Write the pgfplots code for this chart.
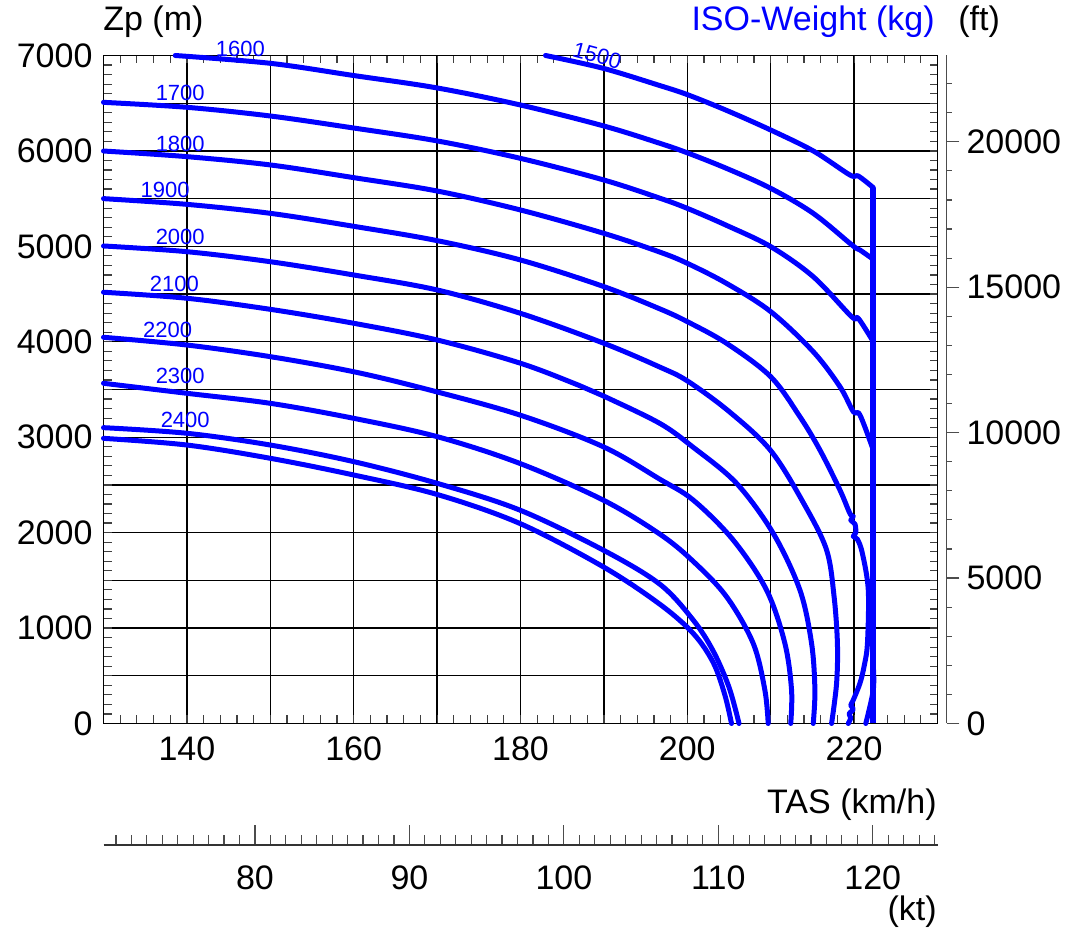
\documentclass[border=0pt]{standalone}
\usepackage{fontspec}
\setmainfont{Liberation Sans}
\usepackage{pgfplots}
\pgfplotsset{compat=1.18}
\definecolor{cblue}{RGB}{0,0,255}
\newcommand{\bigf}{\fontsize{17}{20}\selectfont}
\newcommand{\smf}{\fontsize{11}{13}\selectfont}
\begin{document}
\begin{tikzpicture}
\useasboundingbox (0,0) rectangle (533.5pt,465.5pt);
\tikzset{cur/.style={cblue, line width=2.5pt, line join=round, line cap=round, mark=none, smooth, tension=0.55}}
% ---------- main axis ----------
\begin{axis}[
 at={(51.75pt,103.75pt)}, anchor=south west,
 scale only axis, width=417pt, height=334pt,
 xmin=130, xmax=230, ymin=0, ymax=7000,
 xtick={130,140,...,230}, xticklabels={,140,,160,,180,,200,,220,},
 ytick={0,500,...,7000}, yticklabels={0,,1000,,2000,,3000,,4000,,5000,,6000,,7000},
 minor x tick num=4, minor y tick num=4,
 tick align=inside, major tick length=4pt, minor tick length=4pt,
 grid=major, major grid style={black, line width=0.7pt},
 axis line style={black, line width=0.8pt},
 every tick/.style={black!75, line width=0.6pt},
 tick label style={font=\bigf},
 /pgf/number format/assume math mode=true,
 xticklabel style={yshift=-3pt},
 yticklabel style={xshift=-2pt},
 clip=false,
]
% 1500
\addplot[cur] coordinates {(183.0,7000)(189.9,6866)(196.7,6685)(200.0,6590)(204.7,6425)(210.0,6219)(215.1,6000)(219.5,5748)(220.5,5737)(222.3,5615)};
% 1600
\addplot[cur] coordinates {(138.6,7000)(150.0,6918)(160.0,6790)(170.0,6660)(180.0,6481)(190.0,6261)(196.7,6080)(200.0,5980)(204.7,5817)(210.0,5608)(215.1,5346)(219.8,5010)(220.7,4962)(222.3,4864)};
% 1700
\addplot[cur] coordinates {(130,6509)(140,6457)(150,6366)(160,6240)(170,6105)(180,5922)(190,5695)(196.7,5505)(200,5398)(204.7,5220)(210,4997)(215.1,4682)(219.7,4263)(220.5,4246)(222.3,4001)};
% 1800
\addplot[cur] coordinates {(130,5999)(140,5940)(150,5853)(160,5720)(170,5580)(180,5381)(190,5136)(196.7,4940)(200,4822)(204.7,4612)(210,4316)(215.1,3896)(218.3,3530)(219.9,3268)(220.7,3233)(222.3,2866)};
\addplot[cur] coordinates {(222.3,600)(222.3,351)(221.4,0)};
% 1900
\addplot[cur] coordinates {(130,5500)(140,5440)(150,5346)(160,5210)(170,5060)(180,4857)(190,4578)(196.7,4345)(200,4211)(204.7,3984)(210,3634)(213.5,3215)(215.9,2866)(218.3,2447)(219.5,2200)(219.9,2170)(219.6,2130)(220.1,2090)(220.2,2000)(219.9,1960)(220.4,1930)(221.0,1780)(221.7,1399)(221.6,840)(221.2,600)(220.7,421)(219.9,246)(219.6,190)(219.9,150)(219.4,100)(219.6,60)(219.3,0)};
% 2000
\addplot[cur] coordinates {(130,5004)(140,4944)(150,4839)(160,4700)(170,4543)(180,4298)(190,3984)(196.7,3735)(200,3590)(205,3270)(210,2860)(214,2300)(216.7,1818)(217.6,1329)(218.0,840)(217.9,421)(217.3,0)};
% 2100
\addplot[cur] coordinates {(130,4519)(140,4456)(150,4340)(160,4194)(170,4019)(180,3775)(187.1,3540)(190,3430)(196.7,3145)(200.7,2895)(205.9,2517)(210.3,1993)(213.5,1399)(214.9,840)(215.3,351)(215.1,0)};
% 2200
\addplot[cur] coordinates {(130,4047)(140,3966)(150,3844)(160,3686)(169.1,3495)(179.9,3233)(189.9,2901)(196.7,2560)(200.7,2342)(205.5,1923)(209.5,1399)(211.7,840)(212.5,351)(212.4,0)};
% 2300
\addplot[cur] coordinates {(130,3565)(140,3460)(150,3355)(160,3198)(170,3006)(179.9,2726)(189.9,2342)(196.7,1985)(200.7,1700)(204.7,1329)(207.9,840)(209.3,351)(209.7,0)};
% 2400
\addplot[cur] coordinates {(130,3100)(140,3041)(150,2918)(160,2744)(170,2517)(179.9,2237)(189.9,1818)(196.7,1460)(200.7,1085)(203.1,760)(205.0,380)(206.2,0)};
% 2500
\addplot[cur] coordinates {(130,2988)(140,2918)(150,2779)(160,2604)(170,2400)(179.9,2097)(189.9,1643)(196.7,1250)(200.7,945)(203.1,640)(204.5,300)(205.3,0)};
% limit line
\addplot[cblue, line width=3pt, line cap=butt, mark=none] coordinates {(222.3,0)(222.3,5615)};
% curve labels
\begin{scope}[every node/.style={font=\smf, text=cblue, inner sep=0pt}]
\node at (axis cs:146.4,7069) {1600};
\node[rotate=-15] at (axis cs:189.2,6998) {1500};
\node at (axis cs:139.2,6607) {1700};
\node at (axis cs:139.2,6072) {1800};
\node at (axis cs:137.4,5590) {1900};
\node at (axis cs:139.2,5098) {2000};
\node at (axis cs:138.5,4605) {2100};
\node at (axis cs:137.7,4123) {2200};
\node at (axis cs:139.2,3641) {2300};
\node at (axis cs:139.8,3180) {2400};
\end{scope}
\end{axis}
% ---------- ft axis ----------
\begin{axis}[
 at={(472.25pt,103.75pt)}, anchor=south west,
 scale only axis, width=1pt, height=334pt,
 xmin=0, xmax=1, ymin=0, ymax=22965.9,
 hide x axis, axis y line*=right,
 ytick={0,5000,...,20000}, minor ytick={1000,2000,...,22000},
 scaled y ticks=false,
 tick align=outside, major tick length=6.5pt, minor tick length=2.5pt,
 axis line style={black!70, line width=0.8pt},
 every tick/.style={black!70, line width=0.6pt},
 tick label style={font=\bigf},
 /pgf/number format/assume math mode=true,
 /pgf/number format/1000 sep={},
]
\addplot[draw=none] coordinates {(0,0)};
\end{axis}
% ---------- kt axis ----------
\begin{axis}[
 at={(51.75pt,43pt)}, anchor=south west,
 scale only axis, width=417pt, height=1pt,
 xmin=70.194, xmax=124.19, ymin=0, ymax=1,
 hide y axis, axis x line*=bottom,
 xtick={80,90,...,120}, minor xtick={71,72,...,124},
 tick align=inside, major tick length=10pt, minor tick length=5pt,
 axis line style={black!80, line width=0.8pt},
 every tick/.style={black!70, line width=0.6pt},
 tick label style={font=\bigf},
 /pgf/number format/assume math mode=true,
 xticklabel style={yshift=-6.7pt},
]
\addplot[draw=none] coordinates {(80,0)};
\end{axis}
% ---------- titles ----------
\node[anchor=west, inner sep=0pt, font=\bigf] at (51.5pt,454.5pt) {Zp (m)};
\node[anchor=east, inner sep=0pt, font=\bigf, text=cblue] at (467.5pt,454.5pt) {ISO-Weight (kg)};
\node[anchor=west, inner sep=0pt, font=\bigf] at (479pt,454.5pt) {(ft)};
\node[anchor=east, inner sep=0pt, font=\bigf] at (468.5pt,63pt) {TAS (km/h)};
\node[anchor=east, inner sep=0pt, font=\bigf] at (468.5pt,9.5pt) {(kt)};
\end{tikzpicture}
\end{document}
